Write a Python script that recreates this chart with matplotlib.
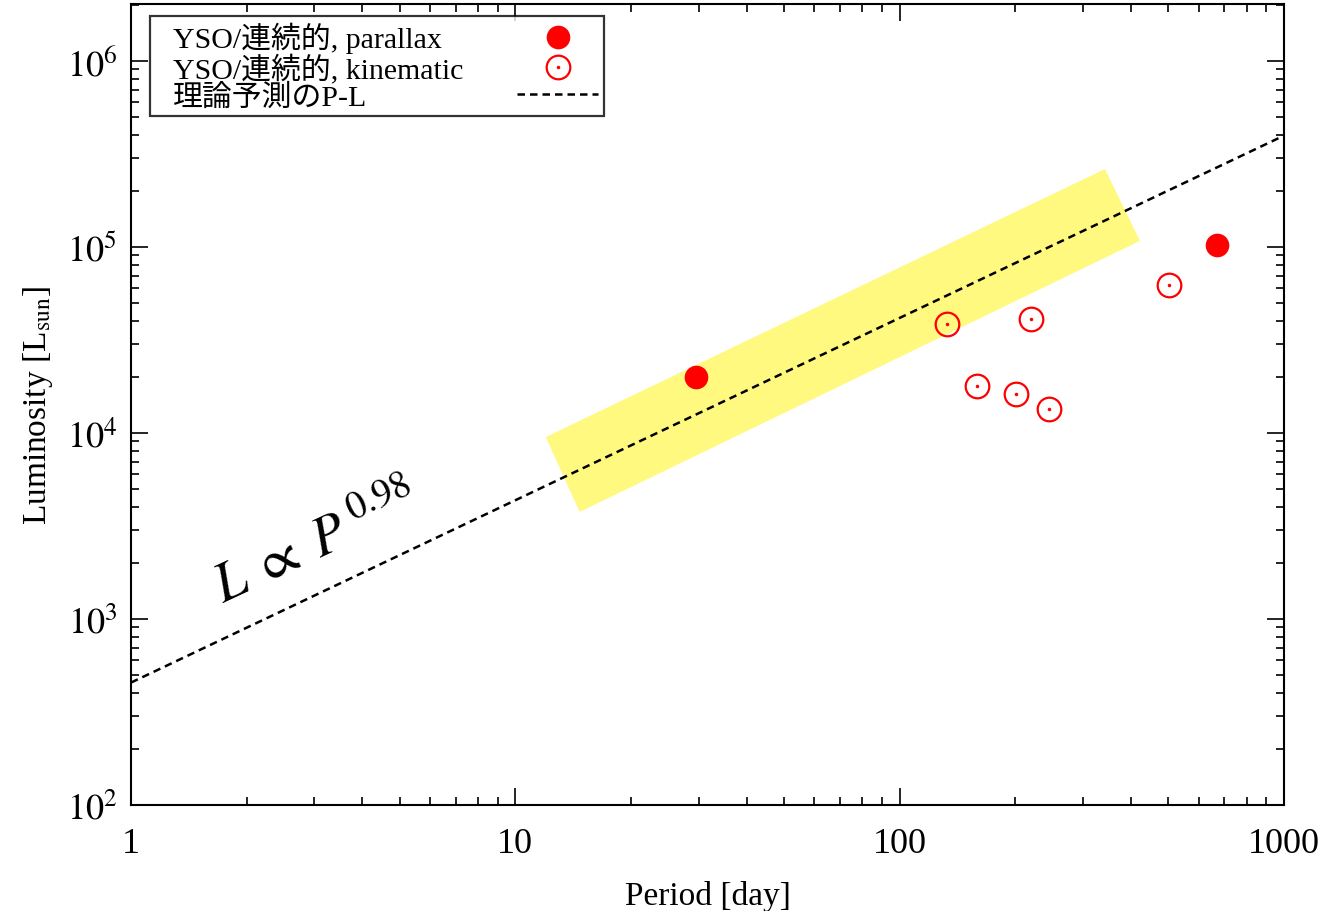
import numpy as np
import matplotlib
matplotlib.use("Agg")
import matplotlib.pyplot as plt
from matplotlib.ticker import FixedLocator, FuncFormatter, LogLocator, NullFormatter
from matplotlib.legend_handler import HandlerTuple
from matplotlib.offsetbox import HPacker, DrawingArea

plt.rcParams['mathtext.fontset'] = 'stix'
plt.rcParams['font.family'] = ['Liberation Serif', 'Noto Sans CJK JP']

# data
parallax_period = [29.5, 670]
parallax_lum = [20000, 102000]
kinematic_period = [133, 220, 159, 201, 245, 502]
kinematic_lum = [38600, 41000, 17900, 16200, 13500, 62500]
pl_coef = 455
pl_index = 0.98
band_period = [12.0, 14.7, 422, 342]
band_lum = [9500, 3760, 107700, 262000]
x_ticks = [1, 10, 100, 1000]
y_ticks = [1e2, 1e3, 1e4, 1e5, 1e6]
labels = ['YSO/連続的, parallax', 'YSO/連続的, kinematic', '理論予測のP-L']

fig = plt.figure(figsize=(13.27, 9.12), dpi=100)
ax = fig.add_axes([131/1327, 1-806/912, 1153/1327, 801/912])
ax.set_xscale('log')
ax.set_yscale('log')
ax.set_xlim(1, 1000)
ax.set_ylim(1e2, 2.02e6)

ax.fill(band_period, band_lum, color='#fff980', lw=0, zorder=1)

P = np.logspace(0, 3, 200)
line, = ax.plot(P, pl_coef * P**pl_index, color='black', lw=1.8, dashes=(3, 2), zorder=2)

pf, = ax.plot(parallax_period, parallax_lum, 'o', color='#ff0000', ms=16, mec='#ff0000', ls='none', zorder=4)
ko, = ax.plot(kinematic_period, kinematic_lum, 'o', mfc='none', mec='#ff0000', mew=1.6, ms=17, ls='none', zorder=4)
kd, = ax.plot(kinematic_period, kinematic_lum, 'o', color='#ff0000', ms=1.5, ls='none', zorder=5)

ax.xaxis.set_major_locator(FixedLocator(x_ticks))
ax.xaxis.set_major_formatter(FuncFormatter(lambda v, p: f'{int(round(v))}'))
ax.yaxis.set_major_locator(FixedLocator(y_ticks))
ax.yaxis.set_major_formatter(FuncFormatter(lambda v, p: r'$10^{%d}$' % int(round(np.log10(v)))))
ax.xaxis.set_minor_locator(LogLocator(base=10, subs=np.arange(2, 10), numticks=20))
ax.yaxis.set_minor_locator(LogLocator(base=10, subs=np.arange(2, 10), numticks=20))
ax.xaxis.set_minor_formatter(NullFormatter())
ax.yaxis.set_minor_formatter(NullFormatter())
ax.tick_params(which='both', direction='in', top=True, right=True, width=1.2)
ax.tick_params(which='major', length=12, labelsize=26)
ax.tick_params(axis='x', which='major', pad=16)
ax.tick_params(axis='y', which='major', pad=10)
ax.tick_params(which='minor', length=6)
for s in ax.spines.values():
    s.set_linewidth(1.5)

ax.set_xlabel('Period [day]', fontsize=24, labelpad=14)
ax.set_ylabel(r'Luminosity [L$_{\mathrm{sun}}$]', fontsize=24, labelpad=8)

ax.text(3.05, 2530, r'$L\;\propto\;P^{\,0.98}$', fontsize=40, rotation=25,
        ha='center', va='center', rotation_mode='anchor', zorder=6)

leg = ax.legend([pf, (ko, kd), line], labels, loc='upper left',
                bbox_to_anchor=(0.0165, 0.985), markerfirst=False,
                handler_map={tuple: HandlerTuple(ndivide=1)},
                fontsize=21.5, frameon=True, fancybox=False, edgecolor='black',
                handlelength=2.7, borderpad=0.2, labelspacing=0.0, handletextpad=1.0,
                borderaxespad=0)
leg.get_frame().set_linewidth(1.6)
leg.set_zorder(10)

# left-align labels, right-align handles
col = leg._legend_handle_box.get_children()[0]
for row in col.get_children():
    txt, hnd = row.get_children()
    row._children = [HPacker(pad=0, sep=0, children=[DrawingArea(12, 1), txt]), hnd]
    row.mode = 'expand'
    row.width = 442

fig.savefig('out.png', dpi=100)
